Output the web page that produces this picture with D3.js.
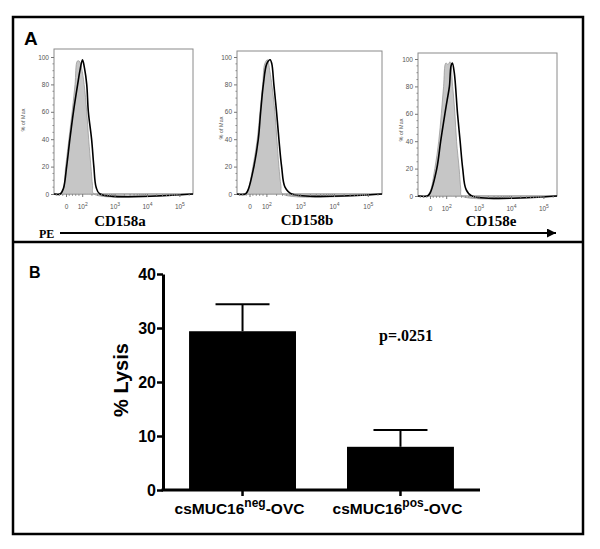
<!DOCTYPE html>
<html><head><meta charset="utf-8">
<script src="https://cdn.jsdelivr.net/npm/d3@7"></script>
<style>body{margin:0;background:#fff}svg{display:block}</style>
</head><body>
<script>
// ---------- DATA ----------
// Panel A: flow histograms, x in log10 display units (0 label sits at 1.5), y in % of max
const markers = ["CD158a", "CD158b", "CD158e"];
const xTickValues = [1.5, 2, 3, 4, 5];
const xTickLabels = [["0",""], ["10","2"], ["10","3"], ["10","4"], ["10","5"]];
const yTickValuesA = [0, 20, 40, 60, 80, 100];

const grayA = [[1.13,0],[1.3,0],[1.4,2],[1.49,20],[1.6,42],[1.69,60],[1.78,80],[1.85,97],[1.91,97],[1.98,92],[2.06,80],[2.14,60],[2.2,40],[2.27,20],[2.32,6],[2.36,0],[5.42,0]];
const blackA = [[1.13,0],[1.32,0],[1.42,4],[1.52,20],[1.62,40],[1.73,60],[1.86,80],[1.93,90],[2.01,98],[2.07,92],[2.14,80],[2.19,60],[2.29,40],[2.36,20],[2.43,5],[2.55,0],[5.42,0]];
const grayB = [[1.13,0],[1.35,0],[1.45,3],[1.6,20],[1.73,40],[1.81,60],[1.89,80],[1.95,95],[2.03,98],[2.1,90],[2.17,78],[2.25,60],[2.31,40],[2.37,20],[2.43,6],[2.48,0],[5.42,0]];
const blackB = [[1.13,0],[1.38,0],[1.46,3],[1.63,20],[1.76,40],[1.83,60],[1.91,80],[2.01,95],[2.11,98],[2.16,95],[2.22,80],[2.3,60],[2.37,40],[2.45,20],[2.55,5],[2.75,0],[5.42,0]];
const grayC = [[1.13,0],[1.4,0],[1.5,3],[1.65,20],[1.77,40],[1.85,60],[1.92,80],[1.99,97],[2.06,96],[2.12,98],[2.2,80],[2.27,60],[2.32,40],[2.4,20],[2.45,5],[2.48,0],[5.42,0]];
const blackC = [[1.13,0],[1.42,0],[1.5,2],[1.71,20],[1.83,40],[1.96,60],[2.03,70],[2.1,80],[2.15,95],[2.19,97],[2.25,90],[2.35,60],[2.43,40],[2.51,20],[2.61,5],[2.79,0],[5.42,0]];
const grayCurves = [grayA, grayB, grayC];
const blackCurves = [blackA, blackB, blackC];

// Panel B: bar chart
const groups = ["neg", "pos"];
const lysis = [29.4, 8.0];
const lysisErr = [5.0, 3.1];
const yTickValuesB = [0, 10, 20, 30, 40];
const pValue = "p=.0251";

// ---------- LAYOUT ----------
const W = 600, H = 549;
const svg = d3.select("body").append("svg").attr("width", W).attr("height", H);
const serif = "'Liberation Serif','Times New Roman',serif";
const sans = "'Liberation Sans',Arial,sans-serif";

// outer frame and divider
svg.append("rect").attr("x", 13).attr("y", 17).attr("width", 570).attr("height", 517)
  .attr("fill", "none").attr("stroke", "#000").attr("stroke-width", 2.5);
svg.append("line").attr("x1", 13).attr("x2", 583).attr("y1", 242).attr("y2", 242)
  .attr("stroke", "#000").attr("stroke-width", 2.5);

svg.append("text").attr("x", 24).attr("y", 45).text("A")
  .attr("font-family", sans).attr("font-weight", "bold").attr("font-size", 19);
svg.append("text").attr("x", 29).attr("y", 278).text("B")
  .attr("font-family", sans).attr("font-weight", "bold").attr("font-size", 16);

// ---------- PANEL A ----------
const boxes = [
  {l: 54, r: 193, t: 49, b: 194, y100: 57, lab: 25, labY: 120, cx: 120, ty: 226},
  {l: 237, r: 382, t: 51, b: 194, y100: 57, lab: 223, labY: 128, cx: 307, ty: 225},
  {l: 418, r: 557, t: 53, b: 196, y100: 59, lab: 403, labY: 130, cx: 491, ty: 226}
];

const minorX = [];
[1.2, 1.3, 1.4, 1.6, 1.7, 1.8, 1.9].forEach(v => minorX.push(v));
for (let n = 2; n <= 4; n++) for (let k = 2; k <= 9; k++) minorX.push(n + Math.log10(k));
minorX.push(5 + Math.log10(2));
const minorY = d3.range(0, 101, 5).filter(v => v % 20 !== 0);

boxes.forEach((bx, i) => {
  const x = d3.scaleLinear().domain([1.13, 5.42]).range([bx.l, bx.r]);
  const y = d3.scaleLinear().domain([0, 100]).range([bx.b, bx.y100]);
  const g = svg.append("g");

  // box
  g.append("rect").attr("x", bx.l).attr("y", bx.t).attr("width", bx.r - bx.l).attr("height", bx.b - bx.t)
    .attr("fill", "none").attr("stroke", "#8a8a8a").attr("stroke-width", 1);

  // gray histogram (control)
  g.append("path").datum(grayCurves[i])
    .attr("d", d3.area().x(d => x(d[0])).y0(y(0)).y1(d => y(d[1])).curve(d3.curveCatmullRom))
    .attr("fill", "#c6c6c6").attr("stroke", "#9a9a9a").attr("stroke-width", 0.8);
  // black line histogram
  g.append("path").datum(blackCurves[i])
    .attr("d", d3.line().x(d => x(d[0])).y(d => y(d[1])).curve(d3.curveCatmullRom))
    .attr("fill", "none").attr("stroke", "#000").attr("stroke-width", 1.6);

  // y axis
  const ya = d3.axisLeft(y).tickValues(yTickValuesA).tickSize(3).tickPadding(2).tickSizeOuter(0);
  const yg = g.append("g").attr("transform", `translate(${bx.l},0)`).call(ya);
  yg.select(".domain").remove();
  yg.selectAll("line").attr("stroke", "#777");
  yg.selectAll("text").attr("font-family", sans).attr("font-size", 6.5).attr("fill", "#555");
  g.selectAll(".my").data(minorY).enter().append("line")
    .attr("x1", bx.l - 1.5).attr("x2", bx.l).attr("y1", d => y(d)).attr("y2", d => y(d)).attr("stroke", "#888");

  // x axis
  const xa = d3.axisBottom(x).tickValues(xTickValues).tickSize(3).tickPadding(4).tickFormat("");
  const xg = g.append("g").attr("transform", `translate(0,${bx.b})`).call(xa);
  xg.select(".domain").remove();
  xg.selectAll("line").attr("stroke", "#777");
  xg.selectAll(".tick").each(function(d, j) {
    const t = d3.select(this).select("text").attr("font-family", sans).attr("font-size", 6.5).attr("fill", "#555").attr("y", 10);
    t.append("tspan").text(xTickLabels[j][0]);
    if (xTickLabels[j][1]) t.append("tspan").attr("dy", -3).attr("font-size", 5).text(xTickLabels[j][1]);
  });
  g.selectAll(".mx").data(minorX).enter().append("line")
    .attr("x1", d => x(d)).attr("x2", d => x(d)).attr("y1", bx.b).attr("y2", bx.b + 1.8).attr("stroke", "#888");

  // y label
  g.append("text").attr("transform", `translate(${bx.lab},${bx.labY}) rotate(-90)`)
    .attr("text-anchor", "middle").attr("font-family", sans).attr("font-size", 5.5).attr("fill", "#555").text("% of Max");

  // marker label
  g.append("text").attr("x", bx.cx).attr("y", bx.ty).attr("text-anchor", "middle")
    .attr("font-family", serif).attr("font-weight", "bold").attr("font-size", 15).text(markers[i]);
});

// PE arrow
svg.append("defs").append("marker").attr("id", "arr").attr("viewBox", "0 0 10 10")
  .attr("refX", 10).attr("refY", 5).attr("markerWidth", 12).attr("markerHeight", 9)
  .attr("markerUnits", "userSpaceOnUse").attr("orient", "auto")
  .append("path").attr("d", "M0,0 L10,5 L0,10 Z").attr("fill", "#000");
svg.append("text").attr("x", 39).attr("y", 238).attr("font-family", serif).attr("font-weight", "bold")
  .attr("font-size", 12).text("PE");
svg.append("line").attr("x1", 60).attr("x2", 556).attr("y1", 233).attr("y2", 233)
  .attr("stroke", "#000").attr("stroke-width", 2).attr("marker-end", "url(#arr)");

// ---------- PANEL B ----------
const xB = d3.scaleBand().domain(groups).range([163, 480]).paddingInner(0.323).paddingOuter(0.165);
const yB = d3.scaleLinear().domain([0, 40]).range([490, 274]);
const gB = svg.append("g");

gB.selectAll(".bar").data(groups).enter().append("rect")
  .attr("x", d => xB(d)).attr("width", xB.bandwidth())
  .attr("y", (d, i) => yB(lysis[i])).attr("height", (d, i) => yB(0) - yB(lysis[i]))
  .attr("fill", "#000");

// error bars (upper only)
groups.forEach((d, i) => {
  const cx = xB(d) + xB.bandwidth() / 2;
  gB.append("line").attr("x1", cx).attr("x2", cx).attr("y1", yB(lysis[i])).attr("y2", yB(lysis[i] + lysisErr[i]))
    .attr("stroke", "#000").attr("stroke-width", 2);
  gB.append("line").attr("x1", cx - 27).attr("x2", cx + 27).attr("y1", yB(lysis[i] + lysisErr[i])).attr("y2", yB(lysis[i] + lysisErr[i]))
    .attr("stroke", "#000").attr("stroke-width", 2);
});

// y axis
const yaB = d3.axisLeft(yB).tickValues(yTickValuesB).tickSize(6).tickPadding(1).tickSizeOuter(0);
const ygB = gB.append("g").attr("transform", "translate(163,0)").call(yaB);
ygB.select(".domain").attr("stroke-width", 3);
ygB.selectAll(".tick line").attr("stroke-width", 2.5);
ygB.selectAll("text").attr("font-family", sans).attr("font-weight", "bold").attr("font-size", 16).attr("fill", "#000");

// x axis baseline
const xaB = d3.axisBottom(xB).tickSize(6).tickSizeOuter(0).tickFormat("");
const xgB = gB.append("g").attr("transform", "translate(0,490)").call(xaB);
xgB.select(".domain").attr("stroke-width", 3).attr("d", "M161.5,0H480");
xgB.selectAll(".tick line").attr("stroke-width", 2.5);

// category labels
groups.forEach((d, i) => {
  const cx = xB(d) + xB.bandwidth() / 2 - 3;
  const t = gB.append("text").attr("x", cx).attr("y", 514).attr("text-anchor", "middle")
    .attr("font-family", sans).attr("font-weight", "bold").attr("font-size", 15.5);
  t.append("tspan").text("csMUC16");
  t.append("tspan").attr("dy", -7).attr("font-size", 12).text(d);
  t.append("tspan").attr("dy", 7).text("-OVC");
});

// y label
gB.append("text").attr("transform", "translate(128,380) rotate(-90)").attr("text-anchor", "middle")
  .attr("font-family", sans).attr("font-weight", "bold").attr("font-size", 20).text("% Lysis");

// p value
gB.append("text").attr("x", 406).attr("y", 341).attr("text-anchor", "middle")
  .attr("font-family", serif).attr("font-weight", "bold").attr("font-size", 16).text(pValue);
</script>
</body></html>
